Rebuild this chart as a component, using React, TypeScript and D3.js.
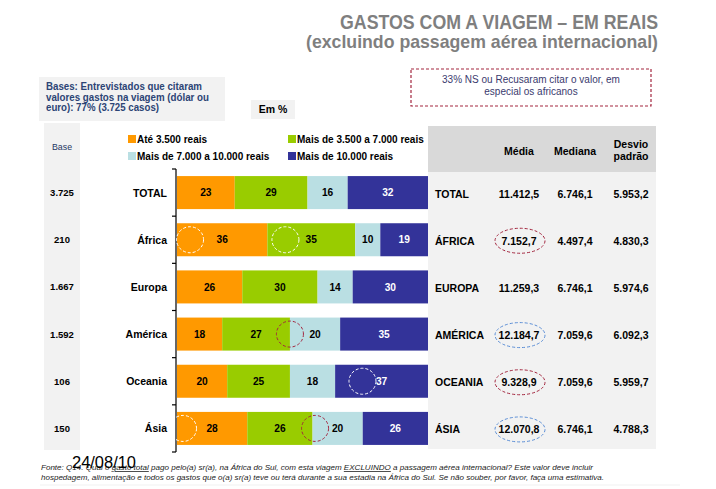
import React from "react";
import * as d3 from "d3";

const categories = ["TOTAL", "África", "Europa", "América", "Oceania", "Ásia"];
const bases = ["3.725", "210", "1.667", "1.592", "106", "150"];
const ate3500 = [23, 36, 26, 18, 20, 28];
const de3500a7000 = [29, 35, 30, 27, 25, 26];
const de7000a10000 = [16, 10, 14, 20, 18, 20];
const mais10000 = [32, 19, 30, 35, 37, 26];

const seriesNames = [
  "Até 3.500 reais",
  "Mais de 3.500 a 7.000 reais",
  "Mais de 7.000 a 10.000 reais",
  "Mais de 10.000 reais",
];
const seriesColors = ["#FF9900", "#99CC00", "#BADFE3", "#333399"];
const seriesTextColors = ["#000", "#000", "#000", "#fff"];

const tableLabels = ["TOTAL", "ÁFRICA", "EUROPA", "AMÉRICA", "OCEANIA", "ÁSIA"];
const media = [11412.5, 7152.7, 11259.3, 12184.7, 9328.9, 12070.8];
const mediana = [6746.1, 4497.4, 6746.1, 7059.6, 7059.6, 6746.1];
const desvio = [5953.2, 4830.3, 5974.6, 6092.3, 5959.7, 4788.3];
const tableColumns = ["Média", "Mediana", "Desvio padrão"];

// decorative dashed circles (category, position in % of bar)
const barCircles = [
  { cat: "África", at: 5.2, kind: "white" },
  { cat: "África", at: 43.2, kind: "white" },
  { cat: "América", at: 45, kind: "red" },
  { cat: "Oceania", at: 73.9, kind: "white" },
  { cat: "Ásia", at: 2.4, kind: "white" },
  { cat: "Ásia", at: 55, kind: "red" },
];
const tableCircles = [
  { cat: "África", kind: "red" },
  { cat: "América", kind: "blue" },
  { cat: "Oceania", kind: "red" },
  { cat: "Ásia", kind: "blue" },
];
const circleColors: Record<string, string> = { white: "#ffffff", red: "#a3263f", blue: "#5b8ed6" };

const ptBR = d3.formatLocale({ decimal: ",", thousands: ".", grouping: [3], currency: ["", ""] });
const fmt = ptBR.format(",.1f");

const FONT = "'Liberation Sans', Arial, sans-serif";

export default function App() {
  const W = 716, H = 489;
  const y = d3.scaleBand<string>().domain(categories).range([169, 452]).paddingInner(0.3).paddingOuter(0.15);
  const x = d3.scaleLinear().domain([0, 100]).range([177, 428]);
  const colX = d3.scalePoint<string>().domain(tableColumns).range([519, 631]);
  const series = [ate3500, de3500a7000, de7000a10000, mais10000];
  const stack = d3.stack<number>().keys(["0", "1", "2", "3"]).value((i, k) => series[+k][i]);
  const stacked = stack(categories.map((_, i) => i));
  const bw = y.bandwidth();
  const cy = (c: string) => (y(c) as number) + bw / 2;
  const [r0, r1] = y.range();
  const boundaries = d3.range(categories.length + 1).map((i) => r0 + i * y.step());

  return (
    <div style={{ position: "absolute", left: 0, top: 0 }}>
      <svg width={W} height={H} style={{ display: "block", fontFamily: FONT }}>
        <rect width={W} height={H} fill="#fff" />
        {/* title */}
        <text x={340} y={29} fontSize={20} fontWeight="bold" fill="#7f7f7f" textLength={318} lengthAdjust="spacingAndGlyphs">
          GASTOS COM A VIAGEM – EM REAIS
        </text>
        <text x={306} y={48} fontSize={19} fontWeight="bold" fill="#7f7f7f" textLength={352} lengthAdjust="spacingAndGlyphs">
          (excluindo passagem aérea internacional)
        </text>

        {/* bases box */}
        <rect x={39} y={77} width={186} height={44} fill="#f2f2f2" />
        <g fontSize={10} fill="#2c4475" fontWeight="bold">
          <text x={46} y={90} textLength={156} lengthAdjust="spacingAndGlyphs">Bases: Entrevistados que citaram</text>
          <text x={46} y={100.5} textLength={163} lengthAdjust="spacingAndGlyphs">valores gastos na viagem (dólar ou</text>
          <text x={46} y={111} textLength={113} lengthAdjust="spacingAndGlyphs">euro): 77% (3.725 casos)</text>
        </g>
        <rect x={251} y={100} width={44} height={19} fill="#f2f2f2" />
        <text x={273} y={113} fontSize={10.5} fontWeight="bold" textAnchor="middle" fill="#000">Em %</text>

        {/* dashed note */}
        <rect x={411} y={69} width={240} height={37} fill="none" stroke="#a3263f" strokeWidth={1.2} strokeDasharray="3,2" />
        <g fontSize={10} fill="#3a3a6e" textAnchor="middle">
          <text x={531} y={83}>33% NS ou Recusaram citar o valor, em</text>
          <text x={531} y={95}>especial os africanos</text>
        </g>

        {/* base column */}
        <rect x={44} y={123} width={36} height={327} fill="#f2f2f2" />
        <text x={62} y={150} fontSize={8.8} fill="#1f3864" textAnchor="middle">Base</text>
        {categories.map((c, i) => (
          <text key={"b" + c} x={62} y={cy(c) + 3.5} fontSize={9.5} fontWeight="bold" textAnchor="middle" fill="#000">
            {bases[i]}
          </text>
        ))}

        {/* legend */}
        {seriesNames.map((n, i) => {
          const lx = i % 2 === 0 ? 128 : 288;
          const ly = i < 2 ? 143 : 160;
          return (
            <g key={"l" + i}>
              <rect x={lx} y={ly - 8} width={8} height={8} fill={seriesColors[i]} />
              <text x={lx + 9} y={ly} fontSize={10} fontWeight="bold" fill="#000">{n}</text>
            </g>
          );
        })}

        {/* category labels */}
        {categories.map((c) => (
          <text key={"c" + c} x={167} y={cy(c) + 4} fontSize={10.5} fontWeight="bold" textAnchor="end" fill="#000">
            {c}
          </text>
        ))}

        {/* bars */}
        {stacked.map((s, si) => (
          <g key={"s" + si}>
            {s.map((d, i) => (
              <g key={i}>
                <rect x={x(d[0])} y={y(categories[i])} width={x(d[1]) - x(d[0])} height={bw} fill={seriesColors[si]} />
                <text
                  x={(x(d[0]) + x(d[1])) / 2}
                  y={cy(categories[i]) + 3.6}
                  fontSize={10.2}
                  fontWeight="bold"
                  textAnchor="middle"
                  fill={seriesTextColors[si]}
                >
                  {series[si][i]}
                </text>
              </g>
            ))}
          </g>
        ))}

        {/* axis */}
        <line x1={176} x2={176} y1={r0} y2={r1} stroke="#000" strokeWidth={1.2} />
        {boundaries.map((b, i) => (
          <line key={"t" + i} x1={172} x2={176} y1={b} y2={b} stroke="#000" strokeWidth={1.2} />
        ))}

        {/* bar circles */}
        {barCircles.map((b, i) => (
          <ellipse
            key={"bc" + i}
            cx={x(b.at)}
            cy={cy(b.cat)}
            rx={13.5}
            ry={13}
            fill="none"
            stroke={circleColors[b.kind]}
            strokeWidth={1}
            strokeDasharray="3,2"
          />
        ))}

        {/* table */}
        <rect x={428} y={126} width={228} height={46} fill="#d9d9d9" />
        <rect x={428} y={172} width={228} height={277} fill="#f2f2f2" />
        <g fontSize={10.5} fontWeight="bold" fill="#000" textAnchor="middle">
          <text x={colX("Média")} y={155}>Média</text>
          <text x={colX("Mediana")} y={155}>Mediana</text>
          <text x={colX("Desvio padrão")} y={148}>Desvio</text>
          <text x={colX("Desvio padrão")} y={160}>padrão</text>
        </g>
        {categories.map((c, i) => (
          <g key={"r" + c} fontSize={10.5} fontWeight="bold" fill="#000">
            <text x={435} y={cy(c) + 5}>{tableLabels[i]}</text>
            <text x={colX("Média")} y={cy(c) + 5} textAnchor="middle">{fmt(media[i])}</text>
            <text x={colX("Mediana")} y={cy(c) + 5} textAnchor="middle">{fmt(mediana[i])}</text>
            <text x={colX("Desvio padrão")} y={cy(c) + 5} textAnchor="middle">{fmt(desvio[i])}</text>
          </g>
        ))}
        {tableCircles.map((t, i) => (
          <ellipse
            key={"tc" + i}
            cx={(colX("Média") as number) + 1}
            cy={cy(t.cat) + 1}
            rx={25}
            ry={12.5}
            fill="none"
            stroke={circleColors[t.kind]}
            strokeWidth={1}
            strokeDasharray="3,2"
          />
        ))}

        {/* footer */}
        <g fontSize={8} fontStyle="italic" fill="#222">
          <text x={41} y={470} textLength={552} lengthAdjust="spacingAndGlyphs">
            Fonte: Q14. Qual o <tspan style={{ textDecoration: "underline" }}>gasto total</tspan> pago pelo(a) sr(a), na África do Sul, com esta viagem{" "}
            <tspan style={{ textDecoration: "underline" }}>EXCLUINDO</tspan> a passagem aérea internacional?  Este valor deve incluir
          </text>
          <text x={41} y={480} textLength={563} lengthAdjust="spacingAndGlyphs">
            hospedagem, alimentação e todos os gastos que o(a) sr(a) teve ou terá durante a sua estadia na África do Sul. Se não souber, por favor, faça uma estimativa.
          </text>
        </g>
        <line x1={40} x2={680} y1={485} y2={485} stroke="#eeeeee" strokeWidth={0.8} />
        <text x={72} y={468} fontSize={16} fill="#000" textLength={64} lengthAdjust="spacingAndGlyphs">24/08/10</text>
      </svg>
    </div>
  );
}
